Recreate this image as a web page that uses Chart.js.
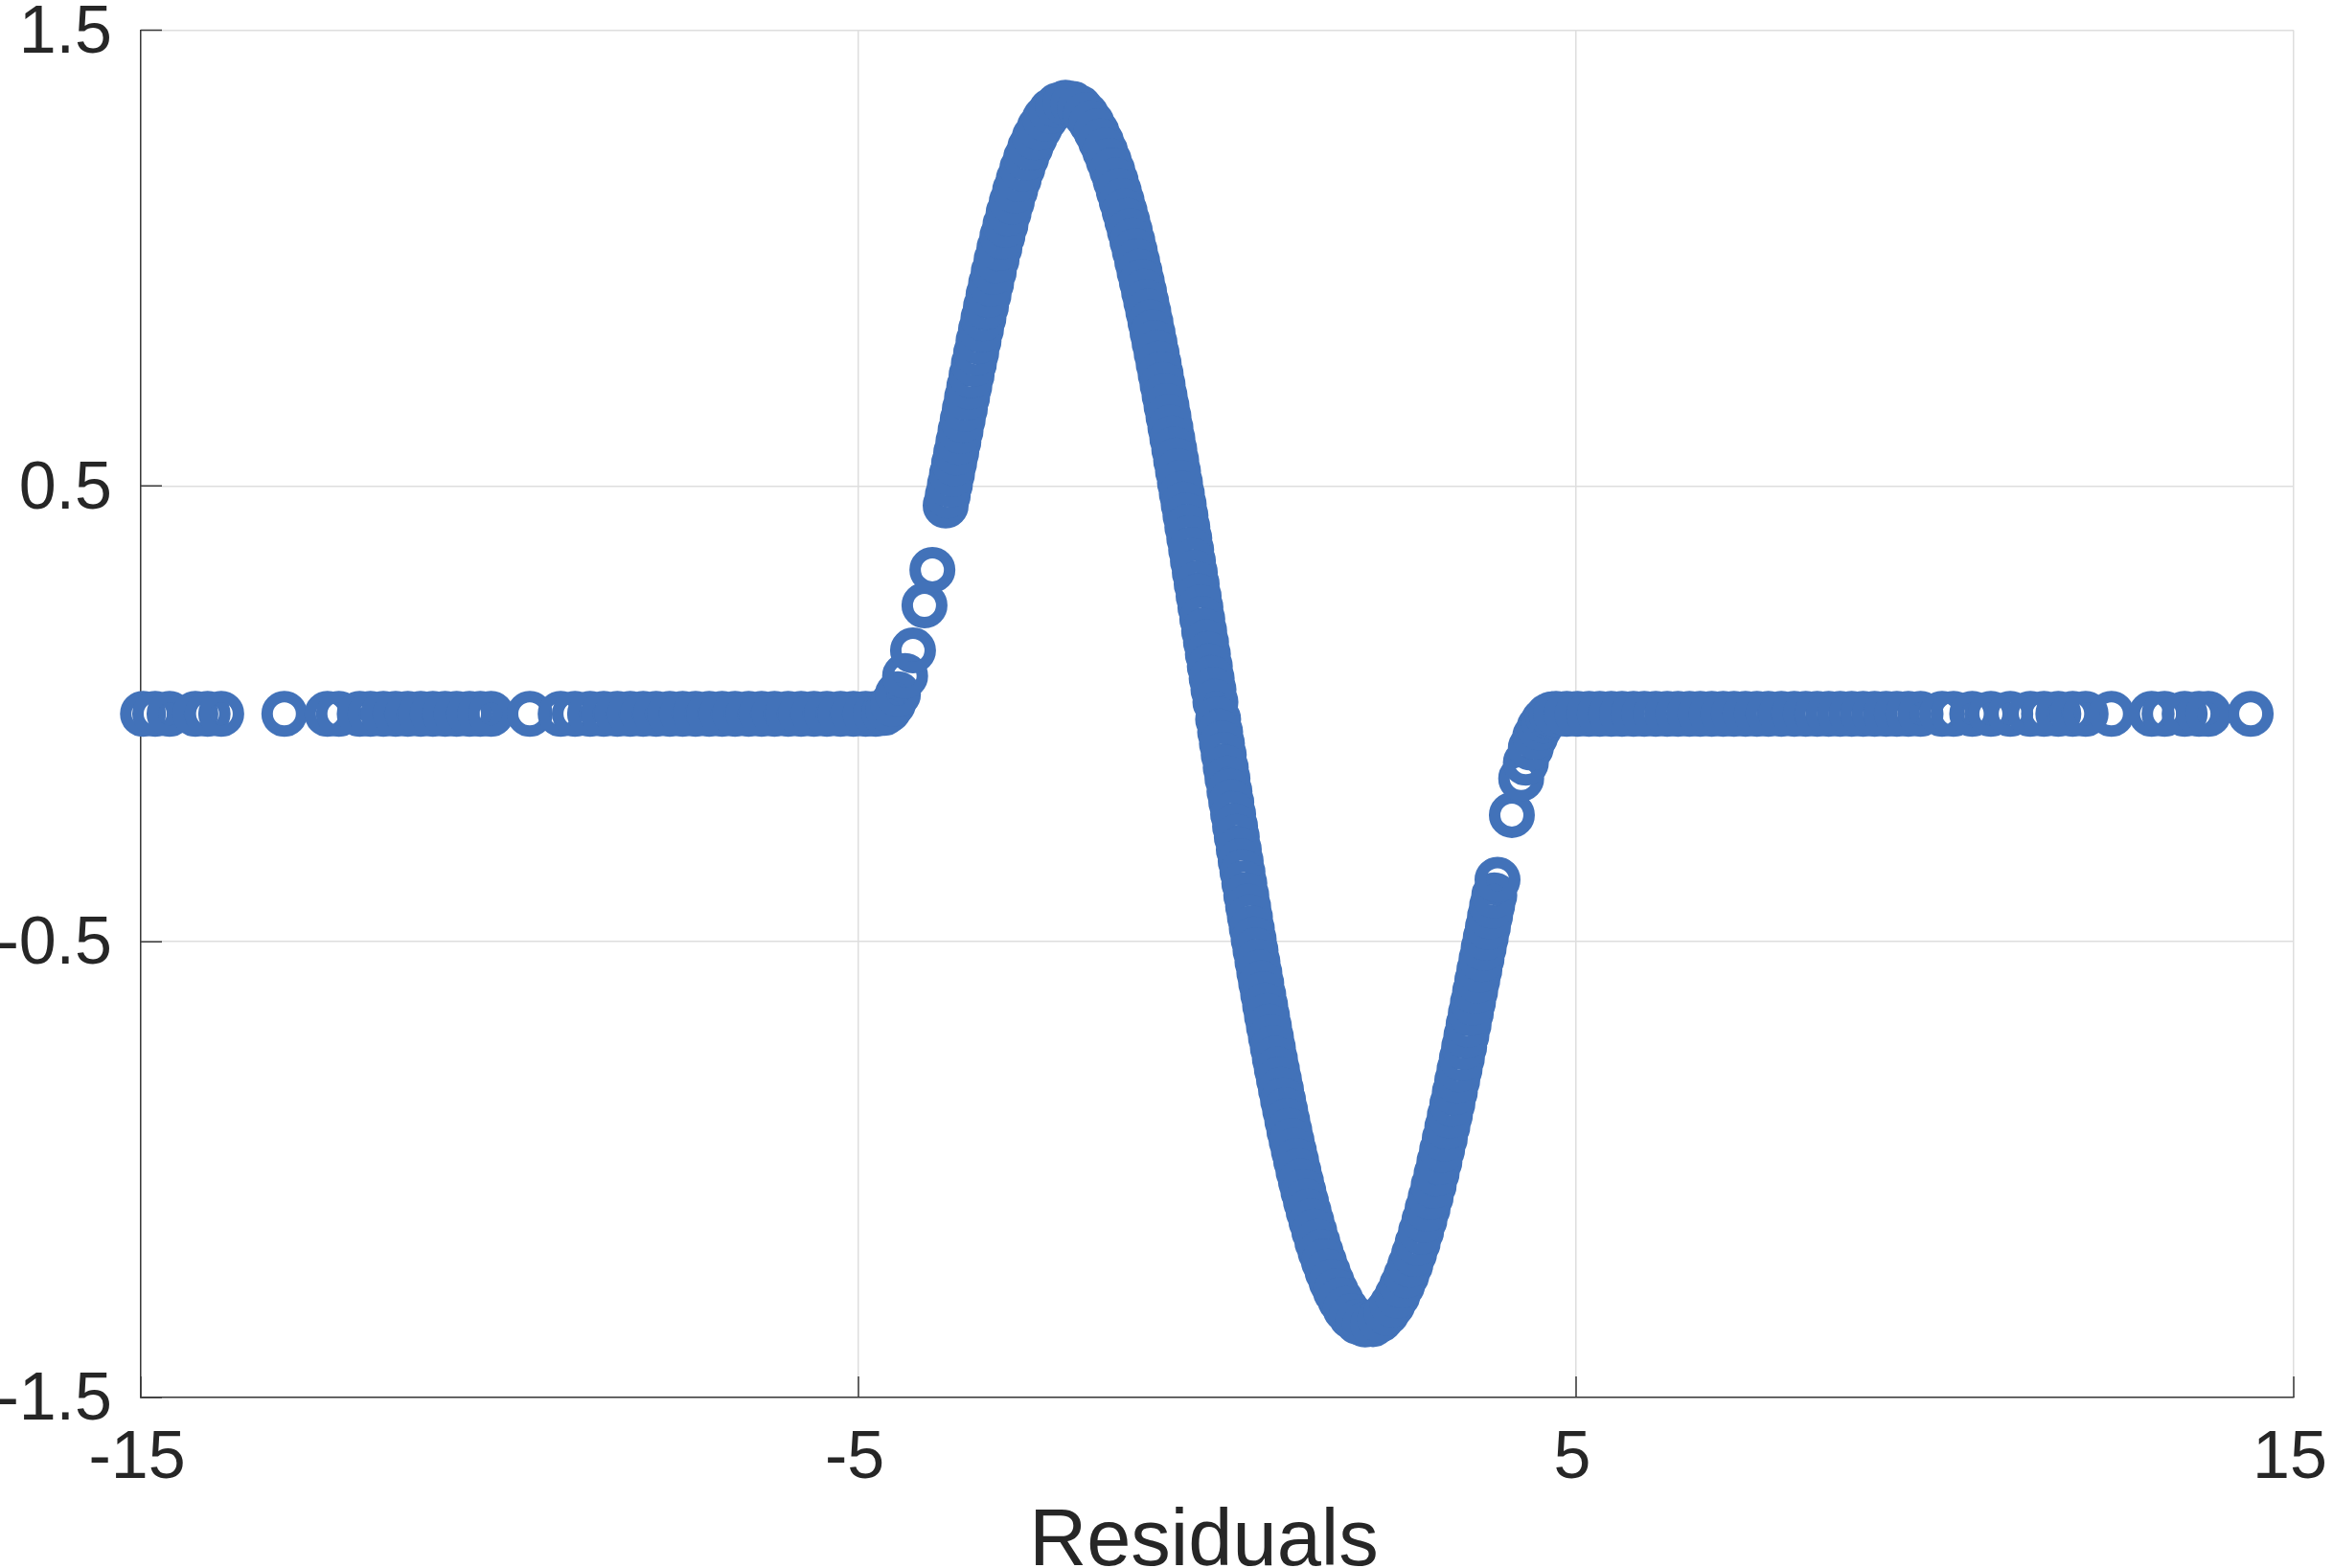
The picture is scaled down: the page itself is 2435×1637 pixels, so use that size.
<!DOCTYPE html>
<html>
<head>
<meta charset="utf-8">
<script src="https://cdn.jsdelivr.net/npm/chart.js@4/dist/chart.umd.min.js"></script>
<style>
  html, body { margin: 0; padding: 0; background: #ffffff; }
  #wrap { width: 2435px; height: 1637px; }
</style>
</head>
<body>
<div id="wrap"><canvas id="c" width="2435" height="1637"></canvas></div>
<script>
// ---- Data (x = residual, y = weighted value) ----
const tailLeftX = [
  -14.97, -14.8, -14.6, -14.24, -14.07, -13.88, -13.0, -12.4, -12.24, -11.95,
  -11.8, -11.62, -11.45, -11.28, -11.1, -10.93, -10.76, -10.6, -10.42, -10.27,
  -10.12, -9.58, -9.15, -8.95, -8.74, -8.55, -8.36, -8.18, -8.0, -7.82,
  -7.63, -7.45, -7.27, -7.08, -6.9, -6.72, -6.53, -6.35, -6.17, -5.98,
  -5.8, -5.62, -5.44, -5.25, -5.07, -4.9, -4.76
];
const tailLeftY = [
  0, 0, 0, 0, 0, 0, 0, 0, 0, 0,
  0, 0, 0, 0, 0, 0, 0, 0, 0, 0,
  0, 0, 0, 0, 0, 0, 0, 0, 0, 0,
  0, 0, 0, 0, 0, 0, 0, 0, 0, 0,
  0, 0, 0, 0, 0, 0, 0
];
const curveLeftX = [
  -4.64, -4.58, -4.52, -4.45, -4.35, -4.24, -4.08, -3.97,
  -3.785, -3.756, -3.726, -3.697, -3.667, -3.638, -3.608, -3.578, -3.548, -3.518,
  -3.487, -3.456, -3.424, -3.392, -3.36, -3.327, -3.293, -3.259, -3.224, -3.188,
  -3.152, -3.115, -3.076, -3.036, -2.994, -2.952, -2.908, -2.863, -2.816, -2.767,
  -2.716, -2.663, -2.605, -2.543, -2.475, -2.4, -2.315, -2.22, -2.115, -2.01,
  -1.915, -1.83, -1.752, -1.684, -1.622, -1.565, -1.512, -1.463, -1.417, -1.373,
  -1.332, -1.292, -1.254, -1.218, -1.183, -1.149, -1.115, -1.083, -1.051, -1.02,
  -0.99, -0.961, -0.931, -0.902, -0.874, -0.845, -0.817, -0.789, -0.762, -0.734,
  -0.707, -0.68, -0.653, -0.626, -0.599, -0.573, -0.547, -0.52, -0.494, -0.468,
  -0.443, -0.417, -0.39, -0.364, -0.339, -0.313, -0.287, -0.26, -0.235, -0.209,
  -0.183, -0.157, -0.131, -0.104, -0.078, -0.053, -0.026
];
const curveLeftY = [
  0.002, 0.009, 0.022, 0.043, 0.083, 0.139, 0.238, 0.316,
  0.457, 0.479, 0.503, 0.526, 0.550, 0.573, 0.597, 0.621, 0.645, 0.669,
  0.694, 0.718, 0.743, 0.768, 0.792, 0.818, 0.843, 0.868, 0.893, 0.919,
  0.944, 0.970, 0.996, 1.022, 1.048, 1.073, 1.099, 1.124, 1.149, 1.173,
  1.197, 1.220, 1.243, 1.265, 1.286, 1.306, 1.323, 1.335, 1.341, 1.338,
  1.329, 1.314, 1.296, 1.277, 1.256, 1.235, 1.213, 1.192, 1.170, 1.147,
  1.125, 1.103, 1.081, 1.059, 1.037, 1.015, 0.992, 0.970, 0.948, 0.926,
  0.904, 0.882, 0.859, 0.836, 0.814, 0.791, 0.768, 0.745, 0.722, 0.698,
  0.675, 0.652, 0.628, 0.604, 0.580, 0.556, 0.532, 0.507, 0.483, 0.459,
  0.435, 0.410, 0.385, 0.360, 0.335, 0.310, 0.285, 0.258, 0.234, 0.208,
  0.182, 0.157, 0.131, 0.104, 0.078, 0.053, 0.026
];
const curveRightX = [
  0.012, 0.04, 0.065, 0.09, 0.118, 0.142, 0.17, 0.195, 0.221, 0.248,
  0.272, 0.3, 0.326, 0.351, 0.377, 0.404, 0.43, 0.455, 0.481, 0.507,
  0.533, 0.56, 0.586, 0.612, 0.64, 0.667, 0.693, 0.72, 0.748, 0.775,
  0.803, 0.831, 0.86, 0.888, 0.917, 0.946, 0.976, 1.005, 1.036, 1.067,
  1.099, 1.132, 1.166, 1.2, 1.236, 1.273, 1.312, 1.352, 1.395, 1.44,
  1.487, 1.538, 1.593, 1.652, 1.716, 1.79, 1.87, 1.96, 2.06, 2.17,
  2.27, 2.36, 2.44, 2.51, 2.575, 2.635, 2.69, 2.742, 2.792, 2.84,
  2.886, 2.93, 2.973, 3.015, 3.056, 3.095, 3.133, 3.17, 3.206, 3.241,
  3.276, 3.31, 3.343, 3.376, 3.408, 3.44, 3.471, 3.502, 3.533, 3.563,
  3.593, 3.623, 3.652, 3.682, 3.712, 3.741, 3.771, 3.801, 3.83, 3.86,
  3.905, 4.105, 4.235, 4.3, 4.37, 4.43, 4.49, 4.55, 4.61, 4.66
];
const curveRightY = [
  -0.012, -0.040, -0.065, -0.090, -0.118, -0.142, -0.170, -0.194, -0.220, -0.247,
  -0.270, -0.298, -0.323, -0.347, -0.372, -0.398, -0.423, -0.446, -0.471, -0.495,
  -0.519, -0.544, -0.568, -0.591, -0.616, -0.640, -0.663, -0.686, -0.710, -0.733,
  -0.757, -0.780, -0.803, -0.825, -0.848, -0.870, -0.893, -0.915, -0.937, -0.959,
  -0.981, -1.004, -1.026, -1.048, -1.070, -1.092, -1.114, -1.136, -1.159, -1.181,
  -1.202, -1.224, -1.246, -1.267, -1.286, -1.306, -1.322, -1.334, -1.340, -1.339,
  -1.329, -1.314, -1.296, -1.276, -1.254, -1.232, -1.209, -1.185, -1.161, -1.136,
  -1.111, -1.086, -1.061, -1.035, -1.009, -0.983, -0.957, -0.932, -0.906, -0.881,
  -0.856, -0.830, -0.805, -0.780, -0.756, -0.731, -0.706, -0.682, -0.657, -0.633,
  -0.609, -0.585, -0.562, -0.538, -0.514, -0.491, -0.468, -0.444, -0.421, -0.398,
  -0.364, -0.222, -0.142, -0.107, -0.074, -0.050, -0.030, -0.015, -0.005, -0.001
];
const tailRightX = [
  4.72, 4.87, 5.02, 5.18, 5.33, 5.49, 5.64, 5.8, 5.95, 6.11,
  6.27, 6.42, 6.58, 6.73, 6.89, 7.05, 7.2, 7.36, 7.52, 7.68,
  7.86, 8.04, 8.2, 8.36, 8.52, 8.68, 8.84, 9.0, 9.16, 9.32,
  9.47, 9.63, 9.8, 10.1, 10.26, 10.52, 10.78, 11.05, 11.33, 11.52,
  11.72, 11.92, 12.1, 12.46, 13.02, 13.2, 13.48, 13.68, 13.81, 14.4
];
const tailRightY = [
  0, 0, 0, 0, 0, 0, 0, 0, 0, 0,
  0, 0, 0, 0, 0, 0, 0, 0, 0, 0,
  0, 0, 0, 0, 0, 0, 0, 0, 0, 0,
  0, 0, 0, 0, 0, 0, 0, 0, 0, 0,
  0, 0, 0, 0, 0, 0, 0, 0, 0, 0
];

const xTickValues = [-15, -5, 5, 15];
const xTickLabels = ['-15', '-5', '5', '15'];
const yTickValues = [-1.5, -0.5, 0.5, 1.5];
const yTickLabels = ['-1.5', '-0.5', '0.5', '1.5'];
const xAxisTitle = 'Residuals';

// ---- Build the point table ----
function pairs(xs, ys) {
  const out = [];
  for (let i = 0; i < xs.length && i < ys.length; i++) out.push({ x: xs[i], y: ys[i] });
  return out;
}
const points = [].concat(
  pairs(tailLeftX, tailLeftY),
  pairs(curveLeftX, curveLeftY),
  pairs(curveRightX, curveRightY),
  pairs(tailRightX, tailRightY)
);

const FONT = '"Liberation Sans", Arial, Helvetica, sans-serif';
const TEXT = '#262626';
const GRID = '#dedede';
const AXIS = '#3a3a3a';
const MARK = '#4272b9';

function labelFor(values, labels, v) {
  for (let i = 0; i < values.length; i++) if (Math.abs(values[i] - v) < 1e-9) return labels[i];
  return '';
}

const inwardTicks = {
  id: 'inwardTicks',
  beforeDatasetsDraw(chart) {
    const { ctx, chartArea, scales } = chart;
    const len = 22;
    ctx.save();
    ctx.strokeStyle = AXIS;
    ctx.lineWidth = 1.5;
    ctx.beginPath();
    xTickValues.forEach(v => {
      const px = scales.x.getPixelForValue(v);
      ctx.moveTo(px, chartArea.bottom);
      ctx.lineTo(px, chartArea.bottom - len);
    });
    yTickValues.forEach(v => {
      const py = scales.y.getPixelForValue(v);
      ctx.moveTo(chartArea.left, py);
      ctx.lineTo(chartArea.left + len, py);
    });
    ctx.stroke();
    ctx.restore();
  }
};

const axisTitle = {
  id: 'axisTitle',
  afterDraw(chart) {
    const { ctx, chartArea } = chart;
    ctx.save();
    ctx.fillStyle = TEXT;
    ctx.font = '83px ' + FONT;
    ctx.textAlign = 'center';
    ctx.textBaseline = 'alphabetic';
    ctx.fillText(xAxisTitle, (chartArea.left + chartArea.right) / 2 - 14, 1634);
    ctx.restore();
  }
};

new Chart(document.getElementById('c'), {
  type: 'scatter',
  data: {
    datasets: [{
      data: points,
      pointRadius: 18,
      pointHoverRadius: 18,
      pointBorderWidth: 12,
      borderWidth: 12,
      borderColor: MARK,
      pointBorderColor: MARK,
      backgroundColor: 'rgba(0,0,0,0)',
      pointBackgroundColor: 'rgba(0,0,0,0)',
      clip: false
    }]
  },
  options: {
    responsive: false,
    animation: false,
    devicePixelRatio: 1,
    events: [],
    layout: { padding: { top: 31.5, right: 41, bottom: 0, left: 0 } },
    plugins: { legend: { display: false }, tooltip: { enabled: false }, title: { display: false } },
    scales: {
      x: {
        type: 'linear',
        min: -15, max: 15,
        afterBuildTicks: s => { s.ticks = xTickValues.map(v => ({ value: v })); },
        afterFit: s => { s.height = 178; s.paddingLeft = 0; s.paddingRight = 0; },
        grid: { color: GRID, lineWidth: 1.5, drawTicks: false },
        border: { display: true, color: AXIS, width: 1.5 },
        ticks: {
          padding: 23,
          labelOffset: -4,
          maxRotation: 0,
          autoSkip: false,
          color: TEXT,
          font: { family: FONT, size: 70, lineHeight: 1.2 },
          callback: v => labelFor(xTickValues, xTickLabels, v)
        },
        title: { display: false }
      },
      y: {
        type: 'linear',
        min: -1.5, max: 1.5,
        afterBuildTicks: s => { s.ticks = yTickValues.map(v => ({ value: v })); },
        afterFit: s => { s.width = 147; s.paddingTop = 0; s.paddingBottom = 0; },
        grid: { color: GRID, lineWidth: 1.5, drawTicks: false },
        border: { display: true, color: AXIS, width: 1.5 },
        ticks: {
          padding: 30,
          labelOffset: 4,
          autoSkip: false,
          color: TEXT,
          font: { family: FONT, size: 70, lineHeight: 1.2 },
          callback: v => labelFor(yTickValues, yTickLabels, v)
        }
      }
    }
  },
  plugins: [inwardTicks, axisTitle]
});
</script>
</body>
</html>
